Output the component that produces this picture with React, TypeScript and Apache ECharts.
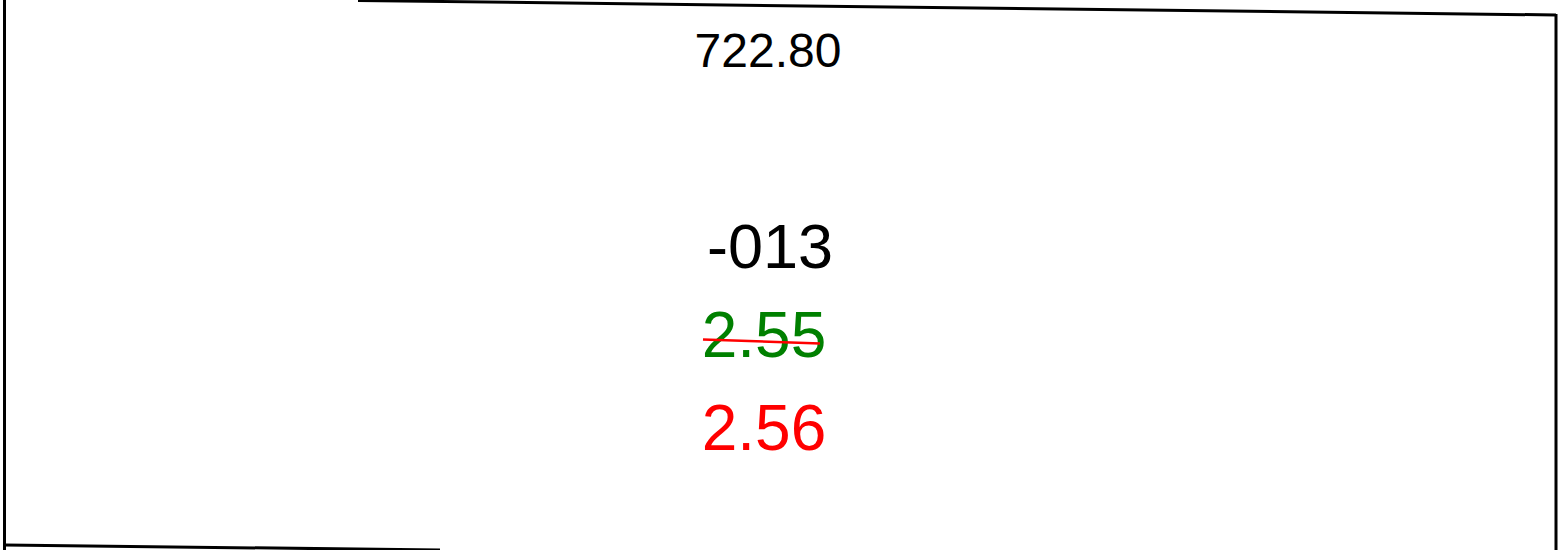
import React, { useEffect, useRef } from "react";
import * as echarts from "echarts";

const labels = ["722.80", "-013", "2.55", "2.56"];
const labelColors = ["#000000", "#000000", "#008000", "#ff0000"];
const labelSizes = [48, 63, 64, 64];
const labelCenters = [
  [768, 50],
  [770, 246],
  [764, 335],
  [764, 428],
];
// frame line segments [x1, y1, x2, y2, width]
const frameLines = [
  [4.5, 0, 4.5, 550, 3],
  [358, 0.5, 1556, 15, 3],
  [1556, 14, 1556, 550, 3],
  [4.5, 545, 440, 550, 3],
];
const strike = [703, 339.5, 820, 343.5];

export default function App() {
  const ref = useRef<HTMLDivElement>(null);
  useEffect(() => {
    document.body.style.margin = "0";
    const chart = echarts.init(ref.current!, undefined, { renderer: "svg" });
    const elements: any[] = [];
    frameLines.forEach(([x1, y1, x2, y2, w]) => {
      elements.push({
        type: "line",
        shape: { x1, y1, x2, y2 },
        style: { stroke: "#000", lineWidth: w },
      });
    });
    labels.forEach((t, i) => {
      elements.push({
        type: "text",
        x: labelCenters[i][0],
        y: labelCenters[i][1],
        style: {
          text: t,
          fill: labelColors[i],
          font: `${labelSizes[i]}px "Liberation Sans", Arial, sans-serif`,
          textAlign: "center",
          textVerticalAlign: "middle",
        },
      });
    });
    elements.push({
      type: "line",
      shape: { x1: strike[0], y1: strike[1], x2: strike[2], y2: strike[3] },
      style: { stroke: "#ff0000", lineWidth: 2.5 },
      z: 10,
    });
    chart.setOption({
      animation: false,
      backgroundColor: "#ffffff",
      graphic: { elements },
    });
    return () => chart.dispose();
  }, []);
  return (
    <div
      ref={ref}
      style={{ position: "absolute", left: 0, top: 0, width: 1559, height: 550 }}
    />
  );
}
